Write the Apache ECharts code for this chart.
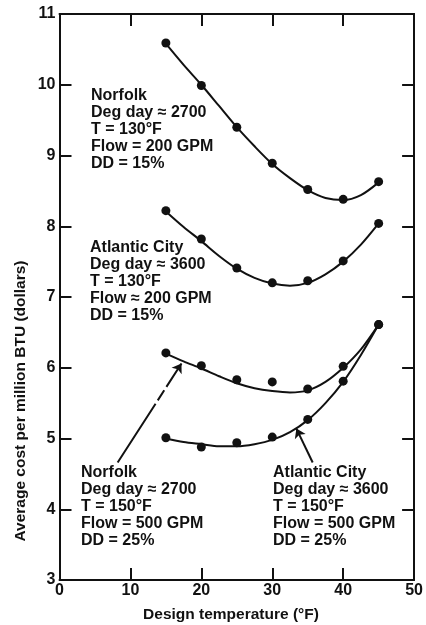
<!DOCTYPE html>
<html>
<head>
<meta charset="utf-8">
<script src="https://cdn.jsdelivr.net/npm/echarts@6/dist/echarts.min.js"></script>
<style>
html,body{margin:0;padding:0;background:#fff;}
#chart{width:426px;height:625px;}
</style>
</head>
<body>
<div id="chart"></div>
<script>
// Design temperatures (°F) of the measured points
const xValues = [15, 20, 25, 30, 35, 40, 45];
// Measured points (average cost per million BTU, dollars)
const norfolk130 = [10.59, 9.99, 9.40, 8.89, 8.52, 8.38, 8.63];
const atlantic130 = [8.22, 7.82, 7.41, 7.20, 7.23, 7.51, 8.04];
const norfolk150 = [6.21, 6.03, 5.83, 5.80, 5.70, 6.02, 6.61];
const atlantic150 = [5.01, 4.88, 4.94, 5.02, 5.27, 5.81, 6.61];
// Fitted curves
const xFit = [15, 17.5, 20, 22.5, 25, 27.5, 30, 32.5, 35, 37.5, 40, 42.5, 45];
const norfolk130Fit = [10.58, 10.28, 10.00, 9.70, 9.40, 9.13, 8.88, 8.68, 8.51, 8.40, 8.37, 8.44, 8.62];
const atlantic130Fit = [8.21, 7.99, 7.79, 7.58, 7.40, 7.27, 7.19, 7.16, 7.20, 7.32, 7.50, 7.74, 8.04];
const norfolk150Fit = [6.20, 6.09, 5.99, 5.88, 5.78, 5.71, 5.67, 5.65, 5.68, 5.80, 6.00, 6.26, 6.61];
const atlantic150Fit = [5.00, 4.95, 4.92, 4.89, 4.89, 4.92, 4.98, 5.09, 5.26, 5.50, 5.80, 6.18, 6.61];
// Axis ticks
const xTicks = [0, 10, 20, 30, 40, 50];
const yTicks = [3, 4, 5, 6, 7, 8, 9, 10, 11];
// Arrows (data coordinates: [from, to])
const arrowNorfolk = [[8.2, 4.66], [17.2, 6.06]];
const arrowAtlantic = [[35.7, 4.66], [33.4, 5.14]];
// Annotation texts
const noteNorfolk130 = ['Norfolk', 'Deg day \u2248 2700', 'T = 130\u00b0F', 'Flow = 200 GPM', 'DD = 15%'];
const noteAtlantic130 = ['Atlantic City', 'Deg day \u2248 3600', 'T = 130\u00b0F', 'Flow \u2248 200 GPM', 'DD = 15%'];
const noteNorfolk150 = ['Norfolk', 'Deg day \u2248 2700', 'T = 150\u00b0F', 'Flow = 500 GPM', 'DD = 25%'];
const noteAtlantic150 = ['Atlantic City', 'Deg day \u2248 3600', 'T = 150\u00b0F', 'Flow = 500 GPM', 'DD = 25%'];

const FONT = '"Liberation Sans", Arial, Helvetica, sans-serif';
const INK = '#111';

const pairs = (xs, ys) => xs.map((x, i) => [x, ys[i]]);

function axisCommon(showLabels) {
  return {
    axisLine: { show: true, onZero: false, lineStyle: { color: INK, width: 2 } },
    axisTick: { show: true, inside: true, length: 12, lineStyle: { color: INK, width: 2 } },
    axisLabel: { show: showLabels, color: INK, fontFamily: FONT, fontWeight: 'bold', fontSize: 16 },
    splitLine: { show: false }
  };
}

const xMin = xTicks[0], xMax = xTicks[xTicks.length - 1];
const yMin = yTicks[0], yMax = yTicks[yTicks.length - 1];

function xAxisDef(pos, labels) {
  const a = axisCommon(labels);
  a.axisLabel.margin = 3;
  return Object.assign({ type: 'value', position: pos, min: xMin, max: xMax, interval: 10 }, a);
}
function yAxisDef(pos, labels) {
  const a = axisCommon(labels);
  a.axisLabel.margin = 4;
  return Object.assign({ type: 'value', position: pos, min: yMin, max: yMax, interval: 1 }, a);
}

function scatter(ys) {
  return { type: 'scatter', data: pairs(xValues, ys), symbol: 'circle', symbolSize: 9,
    itemStyle: { color: INK, opacity: 1 }, z: 3 };
}
function fit(ys) {
  return { type: 'line', data: pairs(xFit, ys), smooth: 0.3, showSymbol: false,
    lineStyle: { color: INK, width: 2 }, z: 2 };
}

const chart = echarts.init(document.getElementById('chart'), null, { renderer: 'canvas' });

function noteText(lines, left, top) {
  return { type: 'text', left: left, top: top,
    style: { text: lines.join('\n'), fill: INK, font: 'bold 16px ' + FONT, lineHeight: 17 } };
}

chart.setOption({
  animation: false,
  backgroundColor: '#fff',
  grid: { left: 59.5, right: 10, top: 14, bottom: 45, containLabel: false },
  xAxis: [xAxisDef('bottom', true), xAxisDef('top', false)],
  yAxis: [yAxisDef('left', true), yAxisDef('right', false)],
  series: [
    fit(norfolk130Fit), fit(atlantic130Fit), fit(norfolk150Fit), fit(atlantic150Fit),
    scatter(norfolk130), scatter(atlantic130), scatter(norfolk150), scatter(atlantic150),
    {
      type: 'line', data: [], silent: true,
      markLine: {
        silent: true, animation: false,
        symbol: ['none', 'arrow'], symbolSize: 9,
        label: { show: false },
        data: [
          [{ coord: arrowNorfolk[0], lineStyle: { type: [70, 4, 12, 4, 200, 10], color: INK, width: 2 } },
           { coord: arrowNorfolk[1] }],
          [{ coord: arrowAtlantic[0], lineStyle: { type: 'solid', color: INK, width: 2 } },
           { coord: arrowAtlantic[1] }]
        ]
      }
    }
  ],
  graphic: [
    noteText(noteNorfolk130, 91, 87),
    noteText(noteAtlantic130, 90, 239),
    noteText(noteNorfolk150, 81, 464),
    noteText(noteAtlantic150, 273, 464),
    { type: 'text', x: 21, y: 401, rotation: Math.PI / 2,
      style: { text: 'Average cost per million BTU (dollars)', fill: INK,
        font: 'bold 15.5px ' + FONT, textAlign: 'center', textVerticalAlign: 'middle' } },
    { type: 'text', x: 231, y: 615,
      style: { text: 'Design temperature (\u00b0F)', fill: INK,
        font: 'bold 15.5px ' + FONT, textAlign: 'center', textVerticalAlign: 'middle' } }
  ]
});
</script>
</body>
</html>
